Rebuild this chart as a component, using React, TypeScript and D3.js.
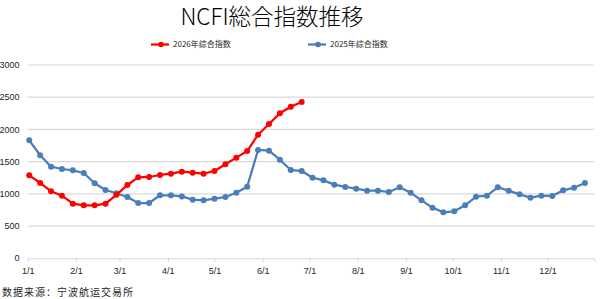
import { useEffect, useRef } from "react";
import * as d3 from "d3";

const TITLE = "NCFI総合指数推移";
const SOURCE = "数据来源：宁波航运交易所";
const NAME_2026 = "2026年综合指数";
const NAME_2025 = "2025年综合指数";

// weekly index readings (first publication of the year, then every 7 days)
const values2026 = [
  1288, 1169, 1040, 972, 848, 823, 823, 848, 985, 1138, 1257, 1262, 1293,
  1313, 1344, 1329, 1313, 1355, 1459, 1562, 1665, 1918, 2084, 2250, 2353, 2426,
];
const values2025 = [
  1831, 1599, 1422, 1386, 1366, 1324, 1164, 1060, 1009, 951, 858, 858, 978,
  978, 961, 910, 900, 925, 951, 1018, 1111, 1681, 1670, 1530, 1370, 1355,
  1251, 1210, 1143, 1107, 1081, 1050, 1050, 1029, 1102, 1019, 900, 786, 714,
  729, 822, 956, 972, 1102, 1050, 993, 941, 972, 967, 1055, 1096, 1169,
];
const yTicks = [0, 500, 1000, 1500, 2000, 2500, 3000];
const FIRST_WEEK = new Date(2026, 0, 2);

const RED = "#ff0000";
const BLUE = "#4a7ebb";
const GRID = "#d9d9d9";
const TICK_FILL = "#262626";
const SANS = "'Liberation Sans', Arial, sans-serif";
const CJK = "'Noto Sans CJK SC', sans-serif";

const W = 600;
const H = 299;

export default function App() {
  const ref = useRef<SVGSVGElement>(null);

  useEffect(() => {
    const el = ref.current;
    if (!el) return;
    const svg = d3.select(el);
    svg.selectAll("*").remove();

    const left = 27.7;
    const right = 594.3;
    const top = 65;
    const bottom = 258.3;

    const x = d3
      .scaleTime()
      .domain([new Date(2026, 0, 1), new Date(2026, 11, 31)])
      .range([left, right]);
    const y = d3.scaleLinear().domain([0, 3000]).range([bottom, top]);

    const dateOf = (i: number) => d3.timeDay.offset(FIRST_WEEK, 7 * i);

    // title
    svg
      .append("text")
      .attr("x", 272)
      .attr("y", 24.5)
      .attr("text-anchor", "middle")
      .attr("font-family", "'Noto Sans CJK JP', sans-serif")
      .attr("font-size", 22.5)
      .attr("font-weight", 300)
      .attr("fill", "#000")
      .text(TITLE);

    // gridlines
    svg
      .append("g")
      .selectAll("line")
      .data(yTicks.filter((d) => d > 0))
      .join("line")
      .attr("x1", left)
      .attr("x2", right)
      .attr("y1", (d) => y(d))
      .attr("y2", (d) => y(d))
      .attr("stroke", GRID)
      .attr("stroke-width", 1.2);

    // y labels
    svg
      .append("g")
      .selectAll("text")
      .data(yTicks)
      .join("text")
      .attr("x", 19.5)
      .attr("y", (d) => y(d))
      .attr("dy", "0.35em")
      .attr("text-anchor", "end")
      .attr("font-family", SANS)
      .attr("font-size", 9)
      .attr("fill", TICK_FILL)
      .text((d) => String(d));

    // x axis
    const months = d3.timeMonth.range(new Date(2026, 0, 1), new Date(2026, 11, 2));
    const axis = d3
      .axisBottom(x)
      .tickValues([...months, x.domain()[1]])
      .tickSize(4)
      .tickFormat((d, i) => (i < months.length ? d3.timeFormat("%-m/%-d")(d as Date) : ""));
    svg
      .append("g")
      .attr("transform", `translate(0,${bottom})`)
      .call(axis)
      .call((g) => g.select(".domain").attr("stroke", GRID).attr("d", `M${left},0.5H${right}`))
      .call((g) => g.selectAll(".tick line").attr("stroke", GRID))
      .call((g) =>
        g
          .selectAll(".tick text")
          .attr("font-family", SANS)
          .attr("font-size", 9)
          .attr("fill", TICK_FILL)
          .attr("dy", "0.95em")
      );

    const line = d3
      .line<number>()
      .x((_, i) => x(dateOf(i)))
      .y((d) => y(d));

    const drawSeries = (vals: number[], color: string) => {
      svg
        .append("path")
        .datum(vals)
        .attr("d", line)
        .attr("fill", "none")
        .attr("stroke", color)
        .attr("stroke-width", 2.25)
        .attr("stroke-linejoin", "round");
      svg
        .append("g")
        .selectAll("circle")
        .data(vals)
        .join("circle")
        .attr("cx", (_, i) => x(dateOf(i)))
        .attr("cy", (d) => y(d))
        .attr("r", 3)
        .attr("fill", color);
    };
    drawSeries(values2025, BLUE);
    drawSeries(values2026, RED);

    // legend
    const legend = [
      { name: NAME_2026, color: RED, x: 151 },
      { name: NAME_2025, color: BLUE, x: 308 },
    ];
    const lg = svg
      .append("g")
      .selectAll("g")
      .data(legend)
      .join("g")
      .attr("transform", (d) => `translate(${d.x},44.5)`);
    lg.append("line")
      .attr("x1", 0)
      .attr("x2", 18)
      .attr("stroke", (d) => d.color)
      .attr("stroke-width", 2.25);
    lg.append("circle").attr("cx", 10).attr("r", 2.8).attr("fill", (d) => d.color);
    lg.append("text")
      .attr("x", 22)
      .attr("dy", "0.35em")
      .attr("font-family", CJK)
      .attr("font-size", 8)
      .attr("fill", TICK_FILL)
      .text((d) => d.name);

    // source note
    svg
      .append("text")
      .attr("x", 2)
      .attr("y", 296)
      .attr("font-family", CJK)
      .attr("font-size", 10)
      .attr("letter-spacing", 1)
      .attr("fill", TICK_FILL)
      .text(SOURCE);
  }, []);

  return (
    <svg
      ref={ref}
      width={W}
      height={H}
      viewBox={`0 0 ${W} ${H}`}
      style={{ position: "absolute", left: 0, top: 0, background: "#fff" }}
    />
  );
}
